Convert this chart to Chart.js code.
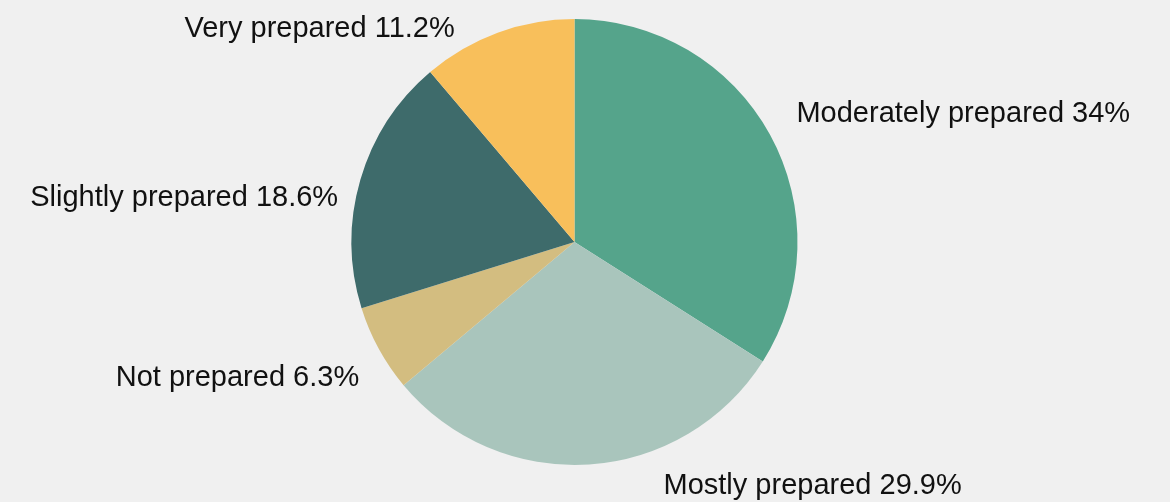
<!DOCTYPE html>
<html>
<head>
<meta charset="utf-8">
<script src="https://cdn.jsdelivr.net/npm/chart.js@4"></script>
<style>
  html, body { margin: 0; padding: 0; background: #f0f0f0; }
  #wrap { width: 1170px; height: 502px; }
</style>
</head>
<body>
<div id="wrap"><canvas id="pie"></canvas></div>
<script>
// preparedness shares, clockwise from 12 o'clock
var categories = ['Moderately prepared', 'Mostly prepared', 'Not prepared', 'Slightly prepared', 'Very prepared'];
var shares = [34, 29.9, 6.3, 18.6, 11.2];
var sliceColors = ['#55a48b', '#a9c5bc', '#d3bd80', '#3e6b6b', '#f8bf5b'];
// small hand nudges for each outside label (dx, dy from the default anchor)
var labelNudges = [[9, -3], [73, 10], [-2, 28], [-3, 32], [-36, 23]];

// draws "name value%" outside each slice
var outsideLabels = {
    id: 'outsideLabels',
    afterDatasetsDraw: function(chart){
        var ctx = chart.ctx;
        var meta = chart.getDatasetMeta(0);
        ctx.save();
        ctx.font = '29px "Liberation Sans", Arial, sans-serif';
        ctx.fillStyle = '#111111';
        ctx.textBaseline = 'alphabetic';
        meta.data.forEach(function(arc, i){
            var mid = (arc.startAngle + arc.endAngle) / 2;
            var r = arc.outerRadius + 20;
            var x = arc.x + Math.cos(mid) * r;
            var y = arc.y + Math.sin(mid) * r;
            // right half gets left-aligned text, left half right-aligned
            ctx.textAlign = Math.cos(mid) >= 0 ? 'left' : 'right';
            var nudge = labelNudges[i] || [0, 0];
            ctx.fillText(categories[i] + ' ' + shares[i] + '%', x + nudge[0], y + nudge[1]);
        });
        ctx.restore();
    }
};

new Chart(document.getElementById('pie'), {
    type: 'pie',
    data: {
        labels: categories,
        datasets: [{
            data: shares,
            backgroundColor: sliceColors,
            borderWidth: 0
        }]
    },
    options: {
        responsive: true,
        maintainAspectRatio: false,
        animation: false,
        layout: { padding: { top: 19, bottom: 37, left: 0, right: 21 } },
        plugins: {
            legend: { display: false },
            tooltip: { enabled: false }
        }
    },
    plugins: [outsideLabels]
});
</script>
</body>
</html>
